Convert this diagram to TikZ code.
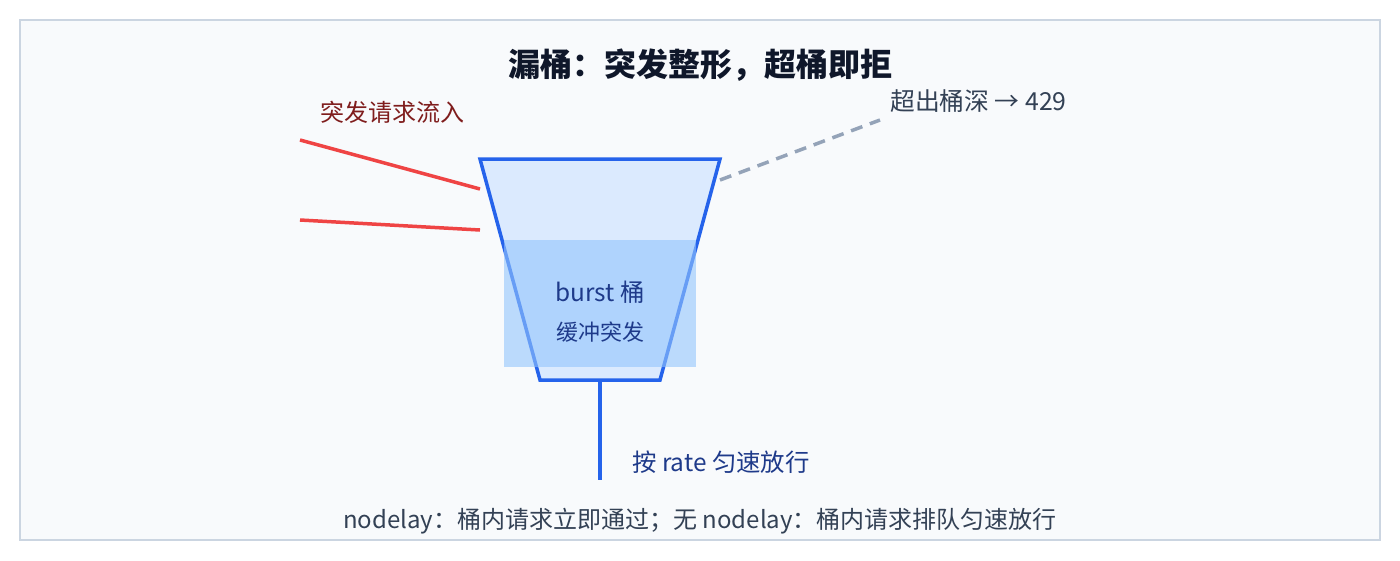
\documentclass[tikz,border=0pt]{standalone}
\usepackage{fontspec}
\setmainfont{Noto Sans CJK SC}
\definecolor{bg}{HTML}{F8FAFC}
\definecolor{frame}{HTML}{CBD5E1}
\definecolor{titlec}{HTML}{0F172A}
\definecolor{blueline}{HTML}{2563EB}
\definecolor{bluefill}{HTML}{DBEAFE}
\definecolor{water}{HTML}{93C5FD}
\definecolor{darkblue}{HTML}{1E3A8A}
\definecolor{redline}{HTML}{EF4444}
\definecolor{darkred}{HTML}{7F1D1D}
\definecolor{grayline}{HTML}{94A3B8}
\definecolor{slate}{HTML}{334155}
\begin{document}
\begin{tikzpicture}[x=1pt,y=-1pt,
  lbl/.style={inner sep=0pt,anchor=center},
  flow/.style={draw=redline,line width=3.5pt},
  overflow/.style={draw=grayline,line width=3.5pt,dash pattern=on 12pt off 8pt}]
\useasboundingbox (0,0) rectangle (1400,560);
\draw[fill=bg,draw=frame,line width=2pt] (20,20) rectangle (1380,540);
\node[lbl,font=\fontsize{32}{36}\selectfont\bfseries,text=titlec] (title) at (700,65) {漏桶：突发整形，超桶即拒};
% bucket
\coordinate (tl) at (480,159);
\coordinate (tr) at (720,159);
\coordinate (br) at (660,380);
\coordinate (bl) at (540,380);
\draw[fill=bluefill,draw=blueline,line width=3.5pt] (tl) -- (tr) -- (br) -- (bl) -- cycle;
\fill[water,opacity=0.6] (504,240) rectangle (696,367);
\node[lbl,font=\fontsize{24.4}{28}\selectfont,text=darkblue] (b1) at (600,292) {burst 桶};
\node[lbl,font=\fontsize{22}{26}\selectfont,text=darkblue] (b2) at (600,332) {缓冲突发};
% outflow
\coordinate (outtop) at (600,380);
\coordinate (outbot) at (600,480);
\draw[draw=blueline,line width=4pt] (outtop) -- (outbot);
\node[lbl,font=\fontsize{24.4}{28}\selectfont,text=darkblue,anchor=west] (rate) at (632,462) {按 rate 匀速放行};
% inflow
\coordinate (in1s) at (300,140);
\coordinate (in1e) at (480,189);
\coordinate (in2s) at (300,220);
\coordinate (in2e) at (480,230);
\draw[flow] (in1s) -- (in1e);
\draw[flow] (in2s) -- (in2e);
\node[lbl,font=\fontsize{24}{28}\selectfont,text=darkred,anchor=west] (inlbl) at (320,112) {突发请求流入};
% overflow
\coordinate (ovs) at (720,180);
\coordinate (ove) at (880,120);
\draw[overflow] (ovs) -- (ove);
\node[lbl,font=\fontsize{24.8}{28}\selectfont,text=slate,anchor=west] (ovlbl) at (890,101) {超出桶深 → 429};
% bottom note
\node[lbl,font=\fontsize{24}{28}\selectfont,text=slate] (note) at (700,521) {nodelay：桶内请求立即通过；无 nodelay：桶内请求排队匀速放行};
\end{tikzpicture}
\end{document}
